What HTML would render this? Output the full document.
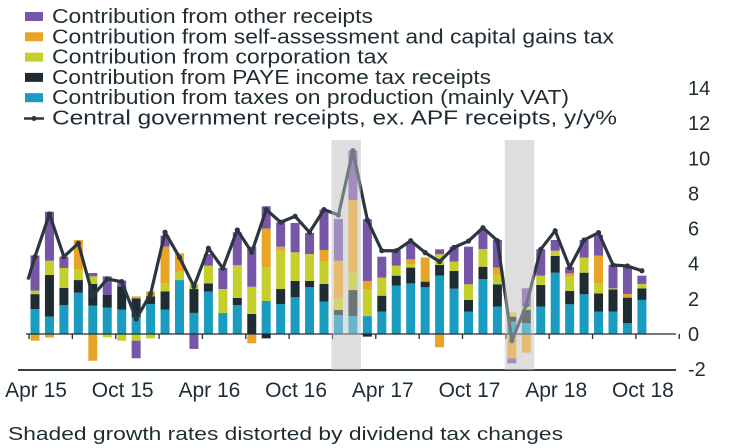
<!DOCTYPE html>
<html><head><meta charset="utf-8"><style>
html,body{margin:0;padding:0;background:#fff;}
svg{display:block;font-family:"Liberation Sans",sans-serif;}
</style></head><body>
<svg id="chart" width="756" height="448" viewBox="0 0 756 448">
<g id="shades"></g><g id="bars"></g><g id="axis"></g><g id="line"></g><g id="shadeover"></g><g id="legend"></g>
</svg>
<script>
const months = ["Apr 15","May 15","Jun 15","Jul 15","Aug 15","Sep 15","Oct 15","Nov 15","Dec 15","Jan 16","Feb 16","Mar 16","Apr 16","May 16","Jun 16","Jul 16","Aug 16","Sep 16","Oct 16","Nov 16","Dec 16","Jan 17","Feb 17","Mar 17","Apr 17","May 17","Jun 17","Jul 17","Aug 17","Sep 17","Oct 17","Nov 17","Dec 17","Jan 18","Feb 18","Mar 18","Apr 18","May 18","Jun 18","Jul 18","Aug 18","Sep 18","Oct 18"];
const vat   = [1.42,0.99,1.65,2.35,1.61,1.5,1.38,0.95,1.71,1.38,3.07,1.2,2.41,1.2,1.65,0,1.88,1.71,2.09,2.66,1.84,1.08,1.02,1.02,1.27,2.75,2.88,2.66,3.32,2.58,1.27,3.13,1.56,0.7,0.61,1.56,3.49,1.69,2.26,1.27,1.27,0.61,1.94];
const paye  = [0.85,2.37,0.97,0.72,1.24,0.72,1.33,1.08,0.43,1.05,0,1.36,0.47,0,0.4,1.14,-0.25,0.85,0.93,0.36,1.01,0.29,1.48,-0.15,0.91,0.57,0.9,0.32,0.61,1.01,0.67,0.7,1.27,0.29,0.76,1.23,0.95,0.76,1.23,1.04,1.27,1.46,0.66];
const corp  = [0.2,0.81,1.14,0.63,0.43,-0.19,-0.38,-0.38,-0.25,0.45,0.48,0.29,1.01,1.36,1.8,1.55,1.92,2.18,1.63,1.53,1.27,0.66,1.05,1.52,1.03,0.57,0.19,0,0.61,0.53,0.89,1.01,0.53,0.24,0.19,0.53,0.3,0.81,0.86,0.57,0.06,0,0.25];
const sa    = [-0.38,-0.2,0,1.65,-1.52,0,0,0.11,0.29,2.09,1.04,0,0,0,0.08,-0.53,2.2,0.23,0,0,0.66,2.14,4.08,0.48,0,0,0.28,1.37,-0.76,0,0,0,0.42,-1.39,-1.06,0,0,0.19,0,1.58,0,0.21,0];
const other = [2.0,2.79,0.64,0,0.19,1.06,0.33,-1.0,0,0.63,0,-0.85,0.66,1.2,1.86,2.28,1.27,1.39,1.67,1.2,2.3,2.38,2.81,3.51,1.19,0.89,0.95,0,0.28,0.85,2.14,1.1,1.57,-0.28,1.04,1.5,0.61,0.35,1.0,1.18,1.33,1.55,0.47];
const total = [4.4,6.83,4.4,5.16,2.18,3.13,2.98,0.85,2.28,5.79,4.36,2.7,4.88,3.74,5.92,4.65,7.08,6.36,6.7,5.79,7.08,6.77,10.44,6.49,4.74,4.74,5.31,4.63,4.12,4.93,5.29,6.05,5.31,-0.38,1.65,4.82,5.88,3.78,5.35,5.77,3.93,3.87,3.6];
const yTicks = [14,12,10,8,6,4,2,0,-2];
const xLabels = ["Apr 15","Oct 15","Apr 16","Oct 16","Apr 17","Oct 17","Apr 18","Oct 18"];
const shadedMonths = [["Jan 17","Feb 17"],["Jan 18","Feb 18"]];

const NS="http://www.w3.org/2000/svg";
const x0=35, step=14.45, bw=9;
const xs = i => x0 + i*step;
const ys = v => 334 - v*17.57;
function mk(tag, attrs, parent){const e=document.createElementNS(NS,tag);for(const k in attrs)e.setAttribute(k,attrs[k]);parent.appendChild(e);return e;}
const G=id=>document.getElementById(id);

shadedMonths.forEach((p)=>{
  const a=months.indexOf(p[0]), b=months.indexOf(p[1]);
  const r=mk('rect',{x:xs(a)-7,y:140,width:xs(b)-xs(a)+15,height:230,fill:'#dedede'},G('shades'));
  
  
  const r2=mk('rect',{x:xs(a)-7,y:140,width:xs(b)-xs(a)+15,height:230,fill:'rgba(222,222,222,0.4)'},G('shadeover'));
  
  
});

const series=[[vat,'#1a9bc0','bar-vat'],[paye,'#1f2d33','bar-paye'],[corp,'#c5cf2c','bar-corporation'],[sa,'#e8a426','bar-self-assessment'],[other,'#7756a8','bar-other']];
months.forEach((m,i)=>{
  let pos=0,neg=0;
  series.forEach(([arr,col,nm])=>{
    const v=arr[i]; if(!v) return;
    let y0,y1;
    if(v>0){y0=pos;y1=pos+v;pos=y1;}else{y0=neg;y1=neg+v;neg=y1;}
    const r=mk('rect',{x:xs(i)-bw/2,y:Math.min(ys(y0),ys(y1)),width:bw,height:Math.abs(ys(y1)-ys(y0)),fill:col},G('bars'));
    
    
  });
});

const ax=G('axis');
let l=mk('line',{x1:26,y1:ys(0),x2:676,y2:ys(0),stroke:'#1f2d33','stroke-width':1.3},ax);


for(let k=0;k<16;k++){const tx=xs(0)-6+k*step*3;const t=mk('line',{x1:tx,y1:ys(0),x2:tx,y2:ys(0)+5,stroke:'#1f2d33','stroke-width':1.3},ax);
 
 }
l=mk('line',{x1:18,y1:370,x2:676,y2:370,stroke:'#33414a','stroke-width':2},ax);


yTicks.forEach(v=>{const t=mk('text',{x:688,y:ys(v)+7,'font-size':20,fill:'#1f2d33'},ax);t.textContent=String(v);
 
 });
xLabels.forEach(s=>{const i=months.indexOf(s);const t=mk('text',{x:xs(i)+1,y:397,'font-size':21,fill:'#1f2d33','text-anchor':'middle'},ax);t.textContent=s;
 
 });
let ft=mk('text',{x:8,y:440,'font-size':18,fill:'#1f2d33',textLength:555,lengthAdjust:'spacingAndGlyphs'},ax);
ft.textContent='Shaded growth rates distorted by dividend tax changes';



const pts=total.map((v,i)=>xs(i)+','+ys(v)).join(' ');
const pl=mk('polyline',{points:(xs(0)-7)+','+ys(3.1)+' '+pts,fill:'none',stroke:'#2b3640','stroke-width':3.2,'stroke-linejoin':'round'},G('line'));


total.forEach((v,i)=>{const c=mk('circle',{cx:xs(i),cy:ys(v),r:2.6,fill:'#2b3640'},G('line'));
 
 });

const leg=[['#7756a8','Contribution from other receipts',321],['#e8a426','Contribution from self-assessment and capital gains tax',562],['#c5cf2c','Contribution from corporation tax',336],['#1f2d33','Contribution from PAYE income tax receipts',439],['#1a9bc0','Contribution from taxes on production (mainly VAT)',517],[null,'Central government receipts, ex. APF receipts, y/y%',565]];
leg.forEach(([c,t,w],k)=>{
  const cy=16+k*20.3;
  const g=mk('g',{},G('legend'));
  
  
  if(c) mk('rect',{x:25,y:cy-4,width:18,height:9,fill:c},g);
  else {mk('line',{x1:24,y1:cy+1,x2:44,y2:cy+1,stroke:'#2b3640','stroke-width':2.5},g);mk('circle',{cx:34,cy:cy+1,r:2.5,fill:'#2b3640'},g);}
  const tx=mk('text',{x:52,y:cy+7,'font-size':20,fill:'#1f2d33',textLength:w,lengthAdjust:'spacingAndGlyphs'},g);
  tx.textContent=t;
});
</script>
</body></html>
